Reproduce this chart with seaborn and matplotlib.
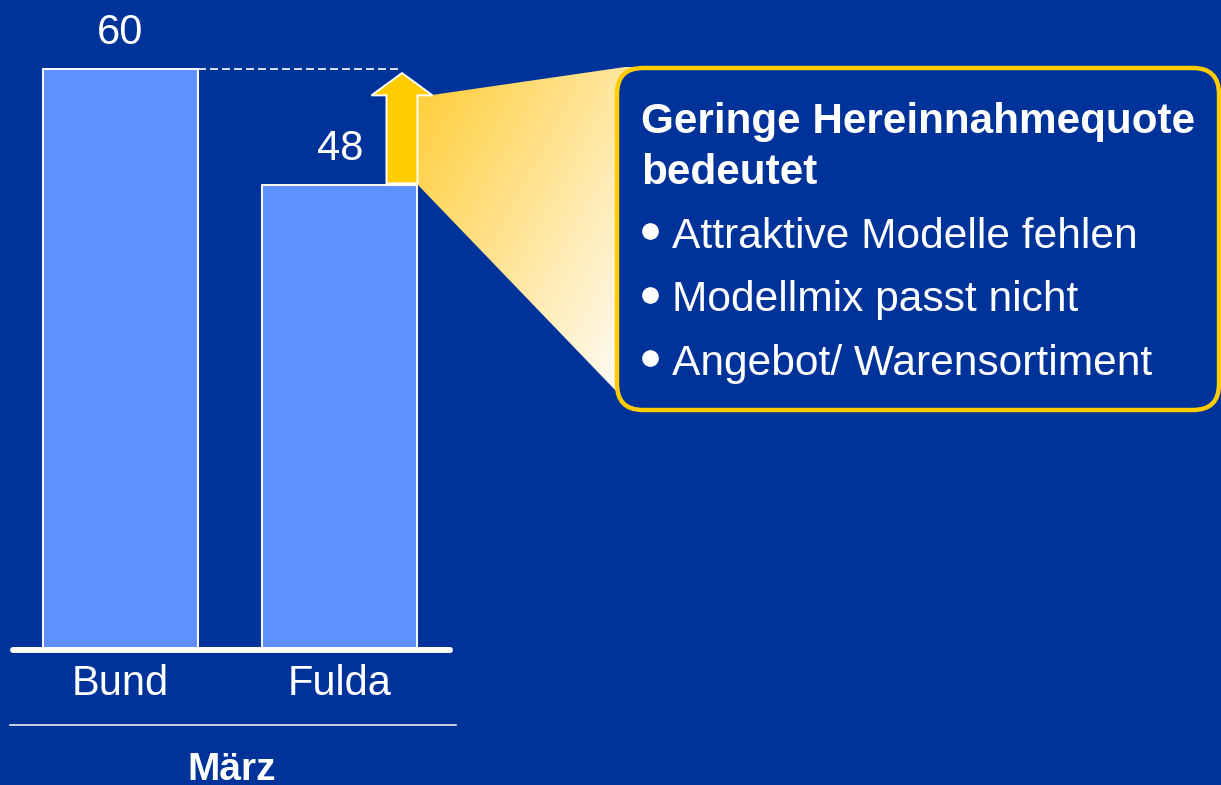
import numpy as np
import pandas as pd
import matplotlib
matplotlib.use("Agg")
import matplotlib.pyplot as plt
import seaborn as sns
from matplotlib.patches import Polygon, FancyBboxPatch

# Daten
regionen = ["Bund", "Fulda"]
quote = [60, 48]
monat = "März"
titel = ["Geringe Hereinnahmequote", "bedeutet"]
gruende = ["Attraktive Modelle fehlen", "Modellmix passt nicht", "Angebot/ Warensortiment"]

hintergrund = "#003399"
balken = "#6090FF"
gelb = "#FFCC00"

plt.rcParams["font.family"] = ["Liberation Sans", "DejaVu Sans"]

fig = plt.figure(figsize=(12.21, 7.85), dpi=100, facecolor=hintergrund)
W, H = 1221, 785

# Overlay in Pixelkoordinaten (hinter dem Balkendiagramm)
ov = fig.add_axes([0, 0, 1, 1], zorder=0)
ov.set_xlim(0, W)
ov.set_ylim(H, 0)
ov.axis("off")

ax = fig.add_axes([10 / W, 135 / H, 445 / W, 650 / H], zorder=1)
df = pd.DataFrame({"region": regionen, "wert": quote})
bw = 0.706
sns.barplot(data=df, x="region", y="wert", color=balken, saturation=1,
            edgecolor="white", linewidth=1.4, width=bw, ax=ax)
ax.set_xlim(-0.503, 1.524)
ax.set_ylim(0, 67.15)
ax.set_facecolor("none")
for s in ax.spines.values():
    s.set_visible(False)
ax.set_yticks([])
ax.set_xlabel("")
ax.set_ylabel("")
ax.tick_params(axis="x", length=0, pad=10, labelsize=30, labelcolor="white")
ax.bar_label(ax.containers[0], fontsize=30, color="white", padding=12)

# Grundlinie
ax.axhline(0, xmin=3 / 445, xmax=440 / 445, color="white", lw=4.3,
           solid_capstyle="round", clip_on=False)

# Pfeil: Differenz Fulda -> Bund
x_r = 1 + bw / 2
schaft = 0.141
kopf = 0.139
x_c = x_r - schaft / 2
y_tip = quote[0] - 0.4
y_base = quote[0] - 2.7
y_bot = quote[1] + 0.2
pfeil = Polygon([(x_r - schaft, y_bot), (x_r - schaft, y_base), (x_c - kopf, y_base),
                 (x_c, y_tip), (x_c + kopf, y_base), (x_r, y_base), (x_r, y_bot)],
                closed=True, fc=gelb, ec="white", lw=1.4, zorder=5)
ax.add_patch(pfeil)
ax.hlines(quote[0], bw / 2, x_c, colors="white", lw=1.2,
          linestyles=(0, (4.8, 2.4)), zorder=4)

# Trichter mit Farbverlauf
trichter = Polygon([(418, 185), (418, 95), (432, 95), (625, 67), (640, 67),
                    (640, 393), (618, 393)], closed=True, fc="none", ec="none")
ov.add_patch(trichter)
nx, ny = 200, 200
u = np.linspace(0, 1, nx)[None, :]
v = np.linspace(0, 1, ny)[:, None]
t = np.clip(0.6 * u + 0.5 * v, 0, 1)
c0 = np.array([255, 204, 51]) / 255
c1 = np.array([255, 250, 240]) / 255
img = c0[None, None, :] * (1 - t[..., None]) + c1[None, None, :] * t[..., None]
im = ov.imshow(img, extent=(418, 640, 400, 60), aspect="auto", zorder=1)
im.set_clip_path(trichter)
ov.set_xlim(0, W)
ov.set_ylim(H, 0)

# Textbox
box = FancyBboxPatch((617, 68), 602, 342, boxstyle="round,pad=0,rounding_size=26",
                     fc=hintergrund, ec=gelb, lw=3.2, zorder=2)
ov.add_patch(box)
ov.text(641, 133, titel[0], fontsize=30.4, fontweight="bold", color="white",
        va="baseline", zorder=3)
ov.text(641, 184, titel[1], fontsize=30.4, fontweight="bold", color="white",
        va="baseline", zorder=3)
for i, g in enumerate(gruende):
    yb = 248 + 63.5 * i
    ov.plot(650, yb - 17, "o", ms=11, color="white", zorder=3)
    ov.text(672, yb, g, fontsize=30.6, color="white", va="baseline", zorder=3)

# Trennlinie und Monat
ov.plot([10, 456], [725, 725], color="white", lw=1.1)
ov.text(232, 780, monat, fontsize=28, fontweight="bold", color="white",
        ha="center", va="baseline")

fig.savefig("out.png", dpi=100, facecolor=hintergrund)
